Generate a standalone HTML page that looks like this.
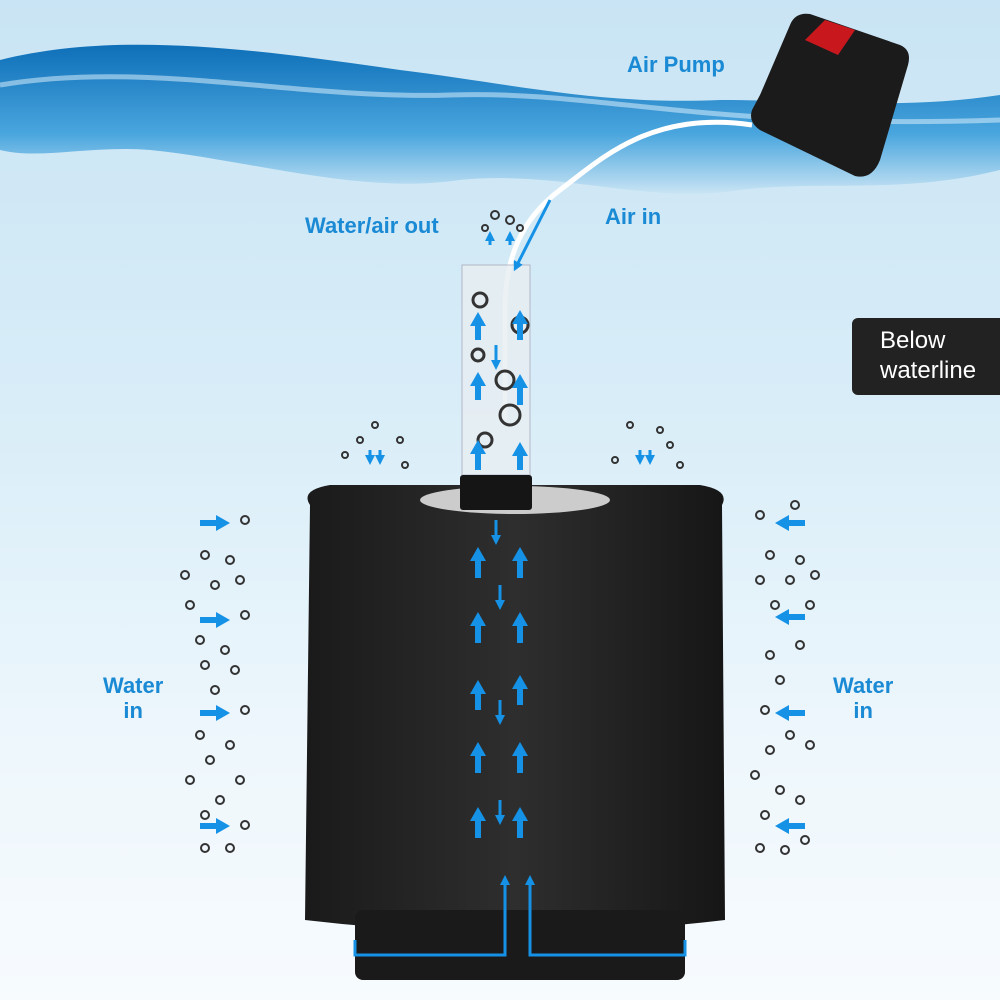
<!DOCTYPE html>
<html><head><meta charset="utf-8"><style>
body{margin:0;width:1000px;height:1000px;overflow:hidden;font-family:"Liberation Sans",sans-serif}
.lbl{position:absolute;color:#1a8ad4;font-weight:bold;font-size:22px;line-height:25px}
</style></head><body>
<div style="position:relative;width:1000px;height:1000px;background:linear-gradient(#c9e4f4 0%,#d8edf8 40%,#eef7fc 75%,#f7fbfe 100%)">
<svg width="1000" height="1000" style="position:absolute;left:0;top:0">
<defs>
<linearGradient id="w" x1="0" y1="0" x2="0" y2="1"><stop offset="0" stop-color="#0e6fb8"/><stop offset="0.6" stop-color="#4aa6de"/><stop offset="1" stop-color="#c9e4f4"/></linearGradient>
<linearGradient id="sp" x1="0" x2="1"><stop offset="0" stop-color="#1a1a1a"/><stop offset="0.5" stop-color="#2e2e2e"/><stop offset="1" stop-color="#161616"/></linearGradient>
<marker id="a" markerUnits="userSpaceOnUse" markerWidth="16" markerHeight="16" refX="4" refY="8" orient="auto"><path d="M0,0L14,8L0,16z" fill="#1592e6"/></marker>
<marker id="s" markerUnits="userSpaceOnUse" markerWidth="10" markerHeight="10" refX="3" refY="5" orient="auto"><path d="M0,0L10,5L0,10z" fill="#1592e6"/></marker>
</defs>
<path d="M0,60 C120,30 260,50 400,70 C520,85 600,105 720,100 C820,100 900,110 1000,95 L1000,170 C900,195 820,180 740,190 C650,205 560,170 460,180 C360,195 250,160 150,150 C90,145 40,160 0,150Z" fill="url(#w)"/>
<path d="M0,85 C150,60 300,100 450,95 C600,90 700,130 1000,120" stroke="#e6f5ff" stroke-width="5" fill="none" opacity="0.5"/>
<!-- pump -->
<path d="M760,95 L790,25 Q795,12 810,14 L900,45 Q912,50 908,65 L880,160 Q872,180 855,176 L760,130 Q748,122 752,110Z" fill="#1b1b1b"/>
<path d="M805,40 L825,20 L855,30 L838,55Z" fill="#c8181e"/>
<!-- tube hose -->
<path d="M752,125 C650,110 600,160 560,190 C520,220 505,260 505,310 L505,420" stroke="#fff" stroke-width="5" fill="none"/>
<!-- clear tube -->
<rect x="462" y="265" width="68" height="210" fill="#e8eef2" opacity="0.8" stroke="#aab" />
<g fill="none" stroke="#333" stroke-width="3"><circle cx="480" cy="300" r="7"/><circle cx="520" cy="325" r="8"/><circle cx="505" cy="380" r="9"/><circle cx="478" cy="355" r="6"/><circle cx="510" cy="415" r="10"/><circle cx="485" cy="440" r="7"/></g>
<!-- sponge -->
<path d="M310,505 Q300,490 330,485 L700,485 Q730,490 722,505 L725,920 Q515,945 305,920Z" fill="url(#sp)"/>
<ellipse cx="515" cy="500" rx="95" ry="14" fill="#ccc"/>
<rect x="460" y="475" width="72" height="35" rx="3" fill="#151515"/>
<rect x="355" y="910" width="330" height="70" rx="8" fill="#1a1a1a"/>
<!-- arrows -->
<g stroke="#1592e6" stroke-width="6" marker-end="url(#a)">
<line x1="478" y1="340" x2="478" y2="322"/><line x1="478" y1="400" x2="478" y2="382"/><line x1="478" y1="470" x2="478" y2="450"/>
<line x1="520" y1="340" x2="520" y2="320"/><line x1="520" y1="405" x2="520" y2="384"/><line x1="520" y1="470" x2="520" y2="452"/>
<line x1="478" y1="578" x2="478" y2="557"/><line x1="520" y1="578" x2="520" y2="557"/>
<line x1="478" y1="643" x2="478" y2="622"/><line x1="520" y1="643" x2="520" y2="622"/>
<line x1="478" y1="710" x2="478" y2="690"/><line x1="520" y1="705" x2="520" y2="685"/>
<line x1="478" y1="773" x2="478" y2="752"/><line x1="520" y1="773" x2="520" y2="752"/>
<line x1="478" y1="838" x2="478" y2="817"/><line x1="520" y1="838" x2="520" y2="817"/>
<line x1="200" y1="523" x2="220" y2="523"/><line x1="200" y1="620" x2="220" y2="620"/><line x1="200" y1="713" x2="220" y2="713"/><line x1="200" y1="826" x2="220" y2="826"/>
<line x1="805" y1="523" x2="785" y2="523"/><line x1="805" y1="617" x2="785" y2="617"/><line x1="805" y1="713" x2="785" y2="713"/><line x1="805" y1="826" x2="785" y2="826"/>
</g>
<g stroke="#1592e6" stroke-width="3" fill="none" marker-end="url(#s)">
<path d="M355,940 L355,955 L505,955 L505,882"/>
<path d="M685,940 L685,955 L530,955 L530,882"/>
<path d="M500,585 L500,603"/><path d="M500,700 L500,718"/><path d="M500,800 L500,818"/>
<path d="M496,520 L496,538"/><path d="M496,345 L496,363"/>
<path d="M550,200 L517,265"/>
<path d="M490,245 L490,238"/><path d="M510,245 L510,238"/>
<path d="M370,450 L370,458"/><path d="M380,450 L380,458"/><path d="M640,450 L640,458"/><path d="M650,450 L650,458"/>
</g>
<!-- droplets -->
<g fill="none" stroke="#333" stroke-width="2">
<circle cx="245" cy="520" r="4"/><circle cx="205" cy="555" r="4"/><circle cx="230" cy="560" r="4"/><circle cx="185" cy="575" r="4"/><circle cx="215" cy="585" r="4"/><circle cx="240" cy="580" r="4"/><circle cx="190" cy="605" r="4"/><circle cx="245" cy="615" r="4"/><circle cx="200" cy="640" r="4"/><circle cx="225" cy="650" r="4"/><circle cx="235" cy="670" r="4"/><circle cx="205" cy="665" r="4"/><circle cx="215" cy="690" r="4"/><circle cx="245" cy="710" r="4"/><circle cx="200" cy="735" r="4"/><circle cx="230" cy="745" r="4"/><circle cx="210" cy="760" r="4"/><circle cx="190" cy="780" r="4"/><circle cx="240" cy="780" r="4"/><circle cx="220" cy="800" r="4"/><circle cx="205" cy="815" r="4"/><circle cx="245" cy="825" r="4"/><circle cx="205" cy="848" r="4"/><circle cx="230" cy="848" r="4"/>
<circle cx="760" cy="515" r="4"/><circle cx="795" cy="505" r="4"/><circle cx="770" cy="555" r="4"/><circle cx="800" cy="560" r="4"/><circle cx="790" cy="580" r="4"/><circle cx="815" cy="575" r="4"/><circle cx="760" cy="580" r="4"/><circle cx="775" cy="605" r="4"/><circle cx="810" cy="605" r="4"/><circle cx="770" cy="655" r="4"/><circle cx="800" cy="645" r="4"/><circle cx="780" cy="680" r="4"/><circle cx="765" cy="710" r="4"/><circle cx="790" cy="735" r="4"/><circle cx="770" cy="750" r="4"/><circle cx="810" cy="745" r="4"/><circle cx="755" cy="775" r="4"/><circle cx="780" cy="790" r="4"/><circle cx="800" cy="800" r="4"/><circle cx="765" cy="815" r="4"/><circle cx="760" cy="848" r="4"/><circle cx="785" cy="850" r="4"/><circle cx="805" cy="840" r="4"/>
<circle cx="345" cy="455" r="3"/><circle cx="360" cy="440" r="3"/><circle cx="400" cy="440" r="3"/><circle cx="405" cy="465" r="3"/><circle cx="375" cy="425" r="3"/>
<circle cx="615" cy="460" r="3"/><circle cx="630" cy="425" r="3"/><circle cx="660" cy="430" r="3"/><circle cx="680" cy="465" r="3"/><circle cx="670" cy="445" r="3"/>
<circle cx="495" cy="215" r="4"/><circle cx="510" cy="220" r="4"/><circle cx="485" cy="228" r="3"/><circle cx="520" cy="228" r="3"/>
</g>
</svg>
<div class="lbl" style="left:627px;top:52px">Air Pump</div>
<div class="lbl" style="left:305px;top:213px">Water/air out</div>
<div class="lbl" style="left:605px;top:204px">Air in</div>
<div class="lbl" style="left:103px;top:673px;text-align:center">Water<br>in</div>
<div class="lbl" style="left:833px;top:673px;text-align:center">Water<br>in</div>
<div style="position:absolute;left:852px;top:318px;width:148px;height:77px;background:#222;border-radius:6px 0 0 6px;color:#fff;font-size:24px;line-height:30px;padding:8px 0 0 28px;box-sizing:border-box">Below<br>waterline</div>
</div>
</body></html>
